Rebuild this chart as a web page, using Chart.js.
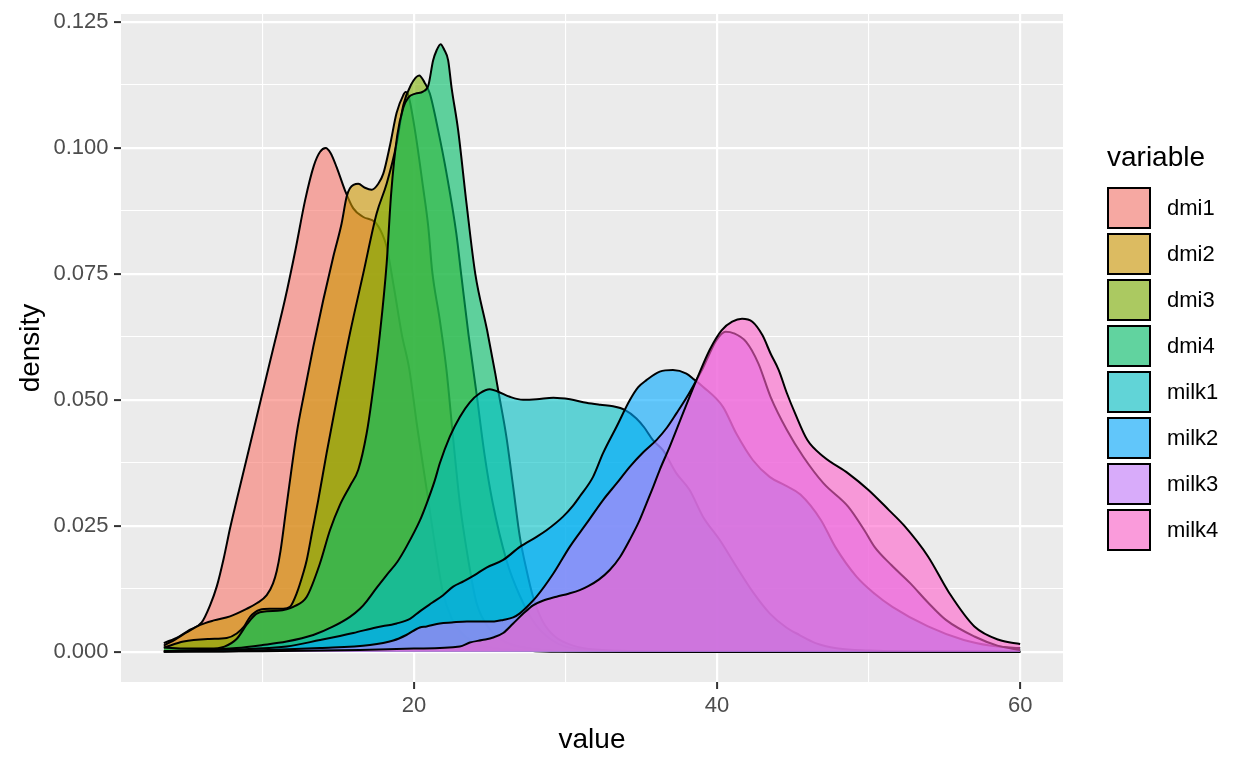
<!DOCTYPE html>
<html><head><meta charset="utf-8">
<script src="https://cdn.jsdelivr.net/npm/chart.js@4/dist/chart.umd.min.js"></script>
<style>html,body{margin:0;padding:0;background:#fff;}#wrap{width:1248px;height:768px;}canvas{display:block;}</style>
</head><body><div id="wrap"><canvas id="c" width="1248" height="768"></canvas></div>
<script>
const seriesNames = ['dmi1','dmi2','dmi3','dmi4','milk1','milk2','milk3','milk4'];
const seriesColors = ['#F8766D','#CD9600','#7CAE00','#00BE67','#00BFC4','#00A9FF','#C77CFF','#FF61CC'];

const dmi1X = [3.5,4.5,5.2,6.0,6.55,7.0,7.45,7.87,8.3,9.1,9.9,10.7,11.5,12.2,12.82,13.4,13.8,14.18,14.5,14.9,15.45,16.0,16.66,17.43,17.9,18.2,18.7,19.2,19.7,20.2,20.8,21.3,21.9,22.5,23.2,24.0,25.0,26.5,28.0,30.0,60.0];
const dmi1Y = [0.0017,0.0030,0.0043,0.0058,0.0092,0.0130,0.0185,0.0245,0.0300,0.0400,0.0500,0.0600,0.0700,0.0800,0.0896,0.0965,0.0992,0.1000,0.0990,0.0962,0.0916,0.0880,0.0863,0.0853,0.0830,0.0804,0.0720,0.0630,0.0560,0.0450,0.0330,0.0230,0.0120,0.0065,0.0035,0.0018,0.0008,0.0003,0.0001,0.0000,0.0000];

const dmi2X = [3.5,4.3,5.0,5.9,6.8,7.87,8.97,9.63,10.29,10.7,10.95,11.2,11.6,12.27,12.8,13.36,14.02,14.68,15.23,15.56,15.78,16.33,16.77,17.21,17.65,17.98,18.42,18.86,19.3,19.45,19.63,20.07,20.6,20.95,21.2,21.7,22.15,22.6,23.03,23.6,24.13,25.0,26.0,27.5,30.0,35.0,60.0];
const dmi2Y = [0.0012,0.0025,0.0038,0.0053,0.0062,0.0070,0.0085,0.0096,0.0112,0.0135,0.0160,0.0200,0.0290,0.0434,0.0519,0.0605,0.0698,0.0784,0.0850,0.0903,0.0920,0.0929,0.0921,0.0917,0.0929,0.0949,0.1005,0.1070,0.1105,0.1111,0.1105,0.1035,0.0923,0.0843,0.0757,0.0660,0.0559,0.0420,0.0295,0.0180,0.0097,0.0045,0.0020,0.0007,0.0001,0.0000,0.0000];

const dmi3X = [3.5,4.8,6.5,7.65,8.31,8.8,9.19,9.85,10.5,11.38,11.83,12.27,12.7,12.93,13.3,13.69,14.24,14.9,15.78,16.66,17.54,18.2,18.86,19.3,19.8,20.35,20.7,21.05,21.6,22.15,22.8,23.14,23.6,24.13,24.68,25.2,26.1,27.0,28.0,29.0,30.0,32.0,35.0,60.0];
const dmi3Y = [0.0008,0.0020,0.0025,0.0027,0.0036,0.0050,0.0069,0.0083,0.0085,0.0085,0.0089,0.0116,0.0156,0.0182,0.0240,0.0301,0.0394,0.0499,0.0632,0.0751,0.0870,0.0929,0.1009,0.1085,0.1125,0.1144,0.1130,0.1108,0.1035,0.0950,0.0830,0.0744,0.0630,0.0513,0.0387,0.0295,0.0182,0.0110,0.0055,0.0025,0.0010,0.0003,0.0000,0.0000];

const dmi4X = [3.5,5.0,6.5,7.5,8.3,9.0,9.6,10.3,11.0,11.6,12.04,12.93,13.8,14.46,15.1,15.8,16.33,16.88,17.21,17.76,18.2,18.5,18.9,19.3,19.63,20.1,20.6,20.95,21.27,21.5,21.76,22.0,22.26,22.48,22.92,23.47,24.05,24.83,25.37,25.56,26.1,26.55,26.99,27.43,27.86,28.5,29.3,30.5,32.0,35.0,40.0,60.0];
const dmi4Y = [0.0008,0.0006,0.0006,0.0010,0.0025,0.0055,0.0075,0.0080,0.0081,0.0084,0.0089,0.0109,0.0175,0.0241,0.0290,0.0330,0.0361,0.0433,0.0499,0.0632,0.0770,0.0910,0.1025,0.1080,0.1100,0.1108,0.1112,0.1124,0.1174,0.1194,0.1206,0.1195,0.1174,0.1121,0.1035,0.0890,0.0750,0.0638,0.0552,0.0519,0.0427,0.0327,0.0228,0.0162,0.0109,0.0060,0.0030,0.0012,0.0004,0.0001,0.0000,0.0000];

const milk1X = [3.5,6.0,8.3,10.0,11.6,13.36,14.68,15.78,16.44,16.88,17.5,18.2,18.9,19.5,20.39,20.84,21.38,21.71,22.37,23.03,23.69,24.35,25.01,25.56,26.33,27.2,28.1,29.2,30.3,31.38,32.3,33.14,33.91,34.68,35.2,35.77,36.43,37.32,38.19,39.07,40.17,41.27,42.37,43.47,44.57,45.44,46.5,48.0,50.0,53.0,60.0];
const milk1Y = [0.0001,0.0003,0.0007,0.0013,0.0020,0.0033,0.0050,0.0069,0.0085,0.0100,0.0125,0.0152,0.0178,0.0208,0.0260,0.0294,0.0340,0.0374,0.0427,0.0466,0.0495,0.0513,0.0521,0.0516,0.0506,0.0500,0.0501,0.0504,0.0501,0.0494,0.0490,0.0487,0.0480,0.0463,0.0445,0.0420,0.0400,0.0354,0.0321,0.0268,0.0222,0.0169,0.0118,0.0076,0.0048,0.0033,0.0017,0.0006,0.0002,0.0000,0.0000];

const milk2X = [3.5,8.0,11.6,13.8,16.0,17.5,18.86,19.74,20.39,21.2,21.93,22.59,23.3,24.0,24.79,25.89,26.99,28.09,28.75,29.84,30.5,30.94,31.82,32.48,33.36,34.24,34.8,35.34,36.22,37.09,37.98,38.5,39.07,40.39,41.27,42.37,43.47,44.5,45.5,46.86,47.8,49.2,50.4,51.57,53.92,56.28,58.0,60.0];
const milk2Y = [0.0001,0.0004,0.0010,0.0023,0.0037,0.0048,0.0056,0.0065,0.0080,0.0097,0.0112,0.0129,0.0140,0.0152,0.0167,0.0182,0.0208,0.0228,0.0241,0.0268,0.0290,0.0308,0.0347,0.0394,0.0446,0.0499,0.0525,0.0539,0.0556,0.0559,0.0552,0.0540,0.0526,0.0486,0.0433,0.0380,0.0347,0.0330,0.0312,0.0261,0.0208,0.0149,0.0115,0.0089,0.0050,0.0023,0.0012,0.0007];

const milk3X = [3.5,8.0,13.8,17.1,18.64,19.5,20.39,20.84,21.71,22.5,23.5,24.5,25.3,25.89,26.55,26.99,27.5,28.09,29.2,30.28,31.4,32.48,33.4,34.24,35.1,36.0,36.7,37.32,38.0,38.64,39.1,39.51,39.95,40.57,41.11,41.92,42.73,43.53,44.61,45.69,47.03,48.65,49.72,50.39,51.5,52.74,53.9,55.1,56.98,58.5,60.0];
const milk3Y = [0.0000,0.0001,0.0007,0.0013,0.0022,0.0033,0.0048,0.0050,0.0056,0.0058,0.0060,0.0060,0.0060,0.0063,0.0068,0.0076,0.0090,0.0109,0.0155,0.0208,0.0255,0.0301,0.0335,0.0367,0.0395,0.0420,0.0445,0.0473,0.0505,0.0539,0.0565,0.0592,0.0618,0.0635,0.0632,0.0615,0.0572,0.0506,0.0440,0.0387,0.0334,0.0288,0.0241,0.0208,0.0172,0.0136,0.0098,0.0063,0.0030,0.0012,0.0003];

const milk4X = [3.5,10.0,16.44,20.0,23.03,23.69,24.5,25.23,25.89,26.55,27.2,27.86,28.5,29.41,30.2,30.94,31.5,32.2,32.92,33.6,34.24,34.8,35.34,35.8,36.22,36.88,37.75,38.64,39.51,40.3,41.0,41.65,42.33,43.0,43.53,44.07,44.61,45.15,45.96,47.03,48.65,49.99,51.34,52.35,53.92,55.33,56.98,58.63,60.0];
const milk4Y = [0.0000,0.0001,0.0003,0.0006,0.0010,0.0018,0.0023,0.0028,0.0037,0.0056,0.0075,0.0092,0.0101,0.0109,0.0115,0.0122,0.0130,0.0143,0.0162,0.0188,0.0222,0.0255,0.0294,0.0328,0.0361,0.0407,0.0473,0.0539,0.0599,0.0638,0.0655,0.0661,0.0655,0.0628,0.0592,0.0559,0.0513,0.0473,0.0420,0.0387,0.0354,0.0321,0.0281,0.0250,0.0189,0.0116,0.0050,0.0023,0.0015];

const seriesX = [dmi1X, dmi2X, dmi3X, dmi4X, milk1X, milk2X, milk3X, milk4X];
const seriesY = [dmi1Y, dmi2Y, dmi3Y, dmi4Y, milk1Y, milk2Y, milk3Y, milk4Y];

const xTickValues = [10, 20, 30, 40, 50, 60];
const xTickLabels = ['', '20', '', '40', '', '60'];
const yTickValues = [0, 0.0125, 0.025, 0.0375, 0.05, 0.0625, 0.075, 0.0875, 0.1, 0.1125, 0.125];
const yTickLabels = ['0.000', '', '0.025', '', '0.050', '', '0.075', '', '0.100', '', '0.125'];
const xTitle = 'value';
const yTitle = 'density';
const legendTitle = 'variable';

const FONT = "'Liberation Sans', Arial, sans-serif";
const ALPHA = 0.6;

function rgba(hex, a) {
  const n = parseInt(hex.slice(1), 16);
  return 'rgba(' + ((n >> 16) & 255) + ',' + ((n >> 8) & 255) + ',' + (n & 255) + ',' + a + ')';
}
function tickIndex(values, v) {
  let best = -1, bd = Infinity;
  values.forEach((t, i) => { const d = Math.abs(t - v); if (d < bd) { bd = d; best = i; } });
  return bd < 1e-6 ? best : -1;
}
function isMajor(values, labels, v) {
  const i = tickIndex(values, v);
  return i >= 0 && labels[i] !== '';
}

const datasets = seriesNames.map((name, i) => ({
  label: name,
  data: seriesX[i].map((x, j) => ({ x: x, y: seriesY[i][j] })),
  borderColor: '#000000',
  borderWidth: 2,
  backgroundColor: rgba(seriesColors[i], ALPHA),
  fill: 'origin',
  pointRadius: 0,
  pointHoverRadius: 0,
  cubicInterpolationMode: 'monotone',
  order: seriesNames.length - i
}));

const panelBg = {
  id: 'panelBg',
  beforeDraw(chart) {
    const { ctx, chartArea: a } = chart;
    ctx.save();
    ctx.fillStyle = '#FFFFFF';
    ctx.fillRect(0, 0, chart.width, chart.height);
    ctx.fillStyle = '#EBEBEB';
    ctx.fillRect(a.left, a.top, a.right - a.left, a.bottom - a.top);
    ctx.restore();
  }
};

const ggLegend = {
  id: 'ggLegend',
  afterDraw(chart) {
    const ctx = chart.ctx;
    ctx.save();
    ctx.fillStyle = '#000000';
    ctx.font = '28px ' + FONT;
    ctx.textAlign = 'left';
    ctx.textBaseline = 'middle';
    ctx.fillText(legendTitle, 1107, 158);
    const x0 = 1107, y0 = 187, w = 44, h = 42, pitch = 46;
    seriesNames.forEach((name, i) => {
      const y = y0 + i * pitch;
      ctx.fillStyle = '#F2F2F2';
      ctx.fillRect(x0 + 1, y + 1, w - 2, h - 2);
      ctx.fillStyle = rgba(seriesColors[i], ALPHA);
      ctx.fillRect(x0 + 1, y + 1, w - 2, h - 2);
      ctx.strokeStyle = '#000000';
      ctx.lineWidth = 2;
      ctx.strokeRect(x0 + 1, y + 1, w - 2, h - 2);
      ctx.fillStyle = '#000000';
      ctx.font = '22px ' + FONT;
      ctx.fillText(name, 1167, y + h / 2 + 1);
    });
    ctx.restore();
  }
};

new Chart(document.getElementById('c'), {
  type: 'line',
  data: { datasets: datasets },
  plugins: [panelBg, ggLegend],
  options: {
    responsive: false,
    animation: false,
    events: [],
    devicePixelRatio: 1,
    layout: { padding: { left: 0, top: 14, right: 185, bottom: 0 } },
    plugins: { legend: { display: false }, tooltip: { enabled: false } },
    scales: {
      x: {
        type: 'linear',
        min: 0.675,
        max: 62.825,
        afterBuildTicks(axis) { axis.ticks = xTickValues.map(v => ({ value: v })); },
        afterFit(scale) { scale.height = 86; scale.paddingLeft = 0; scale.paddingRight = 0; },
        border: { display: false },
        grid: {
          color: '#FFFFFF',
          lineWidth: (c) => isMajor(xTickValues, xTickLabels, c.tick.value) ? 2.2 : 1.1,
          drawTicks: true,
          tickLength: 7,
          tickWidth: 2,
          tickColor: (c) => isMajor(xTickValues, xTickLabels, c.tick.value) ? '#333333' : 'rgba(0,0,0,0)'
        },
        ticks: {
          autoSkip: false,
          maxRotation: 0,
          padding: 4,
          color: '#4D4D4D',
          font: { family: FONT, size: 22 },
          callback: (v) => { const i = tickIndex(xTickValues, v); return i >= 0 ? xTickLabels[i] : ''; }
        },
        title: { display: true, text: xTitle, color: '#000000', font: { family: FONT, size: 28 }, padding: { top: 0, bottom: 11 } }
      },
      y: {
        type: 'linear',
        min: -0.00603,
        max: 0.1266,
        afterBuildTicks(axis) { axis.ticks = yTickValues.map(v => ({ value: v })); },
        afterFit(scale) { scale.width = 121; scale.paddingTop = 0; scale.paddingBottom = 0; },
        border: { display: false },
        grid: {
          color: '#FFFFFF',
          lineWidth: (c) => isMajor(yTickValues, yTickLabels, c.tick.value) ? 2.2 : 1.1,
          drawTicks: true,
          tickLength: 7,
          tickWidth: 2,
          tickColor: (c) => isMajor(yTickValues, yTickLabels, c.tick.value) ? '#333333' : 'rgba(0,0,0,0)'
        },
        ticks: {
          autoSkip: false,
          padding: 5.5,
          color: '#4D4D4D',
          font: { family: FONT, size: 22 },
          callback: (v) => { const i = tickIndex(yTickValues, v); return i >= 0 ? yTickLabels[i] : ''; }
        },
        title: { display: true, text: yTitle, color: '#000000', font: { family: FONT, size: 28 }, padding: { top: 14, bottom: 0 } }
      }
    }
  }
});
</script></body></html>
